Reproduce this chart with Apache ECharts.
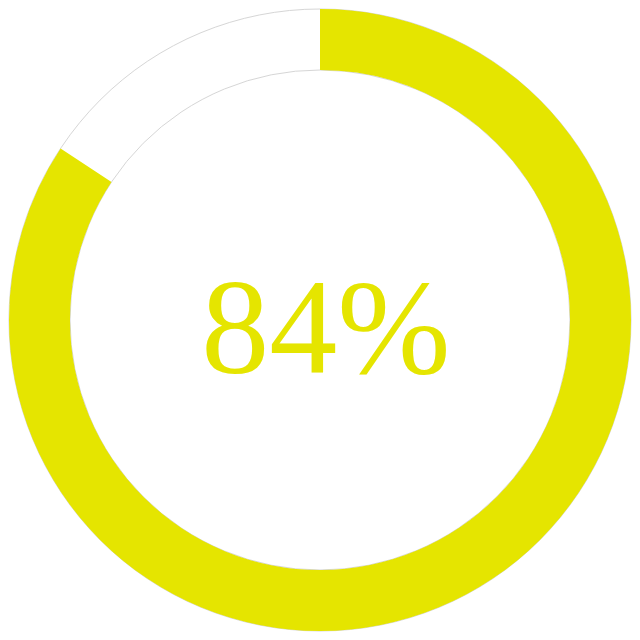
<!DOCTYPE html>
<html><head><meta charset="utf-8">
<script src="https://cdn.jsdelivr.net/npm/echarts@6/dist/echarts.min.js"></script>
<style>html,body{margin:0;padding:0;background:#fff}#c{width:640px;height:640px}</style>
</head><body><div id="c"></div>
<script>
const percentValue = 84.3;
const remainderValue = 100 - percentValue;
const labelText = '84%';
const mainColor = '#e5e500';

const chart = echarts.init(document.getElementById('c'));
chart.setOption({
  animation: false,
  backgroundColor: '#fff',
  series: [
    {
      type: 'pie', silent: true, radius: [250, 311], center: [320, 320],
      label: {show: false}, labelLine: {show: false},
      itemStyle: {color: '#fff', borderColor: '#d6d6d6', borderWidth: 1},
      data: [{value: 1}]
    },
    {
      type: 'pie', silent: true, radius: [250, 311], center: [320, 320],
      startAngle: 90, clockwise: true,
      label: {show: false}, labelLine: {show: false},
      data: [
        {value: percentValue, itemStyle: {color: mainColor, borderWidth: 0}},
        {value: remainderValue, itemStyle: {color: 'rgba(0,0,0,0)', borderWidth: 0}}
      ]
    }
  ],
  graphic: [{
    type: 'text', x: 326, y: 269,
    style: {text: labelText, fill: mainColor, fontSize: 136, fontFamily: '"Liberation Serif"', align: 'center', verticalAlign: 'top'}
  }]
});
</script></body></html>
